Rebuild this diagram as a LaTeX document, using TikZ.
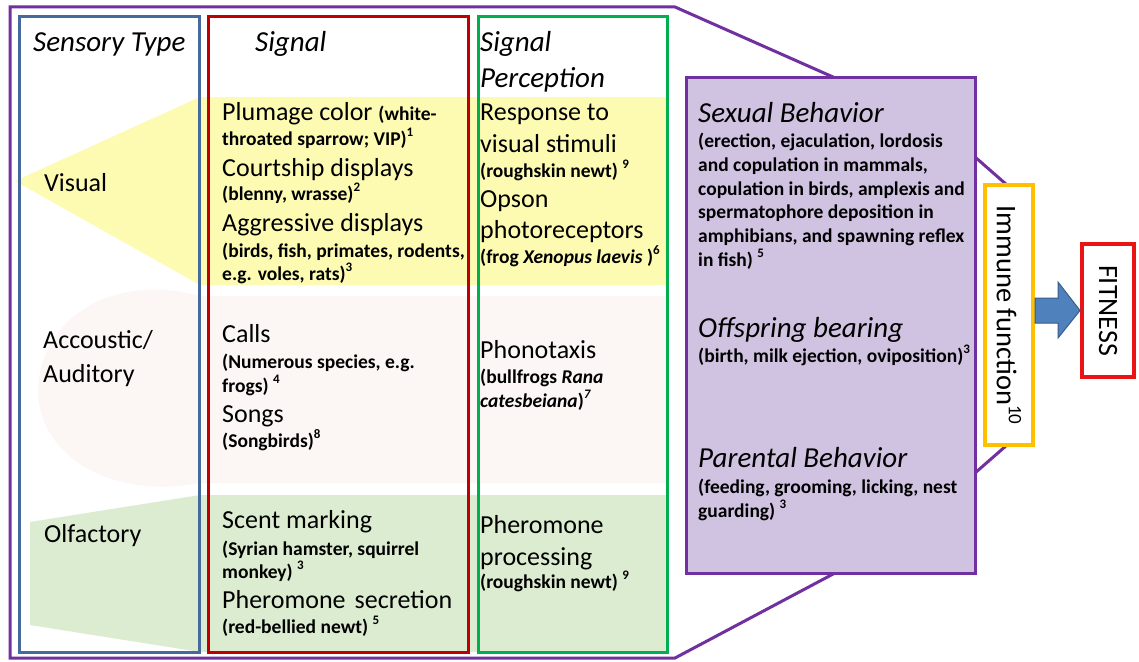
\documentclass[tikz,border=0pt]{standalone}
\usepackage{fontspec}
\setmainfont{Carlito}
\usetikzlibrary{calc}

\definecolor{visfill}{RGB}{253,251,178}
\definecolor{audfill}{RGB}{252,247,245}
\definecolor{olffill}{RGB}{220,236,208}
\definecolor{behfill}{RGB}{208,195,225}
\definecolor{outerline}{RGB}{112,48,160}
\definecolor{typeline}{RGB}{68,106,158}
\definecolor{signalline}{RGB}{192,0,0}
\definecolor{percline}{RGB}{0,176,80}
\definecolor{immline}{RGB}{255,192,0}
\definecolor{fitline}{RGB}{235,20,20}
\definecolor{arrowfill}{RGB}{79,129,189}
\definecolor{arrowline}{RGB}{56,93,138}

\newcommand{\fhd}{\fontsize{29}{35}\selectfont\itshape}
\newcommand{\fbig}{\fontsize{26}{32}\selectfont}
\newcommand{\fsm}{\fontsize{19.5}{24}\selectfont\bfseries}
\newcommand{\refmark}[1]{\raisebox{0.42em}{\fontsize{13}{13}\selectfont\bfseries #1}}

\begin{document}
\begin{tikzpicture}[x=1pt,y=-1pt,
  tx/.style={anchor=base west, inner sep=0pt, text=black},
  hd/.style={tx, font=\fhd},
  lg/.style={tx, font=\fbig},
  sm/.style={tx, font=\fsm},
  colbox/.style={draw, line width=3pt, inner sep=0pt},
  outline/.style={draw=outerline, line width=3pt, line join=miter},
  arrowblock/.style={fill=arrowfill, draw=arrowline, line width=1pt, line join=miter}]
\useasboundingbox (0,0) rectangle (1139,661);
\fill[white] (0,0) rectangle (1139,661);

% coloured bands for the three senses
\fill[visfill] (15,181) -- (200,97) -- (668,97) -- (668,285) -- (200,285) -- cycle;
\fill[audfill] (200,296) .. controls (110,272) and (40,320) .. (38,390)
  .. controls (38,455) and (110,500) .. (200,483) -- (668,483) -- (668,296) -- cycle;
\fill[olffill] (30,522) -- (200,495) -- (668,495) -- (668,652) -- (200,652) -- (30,625) -- cycle;

% funnel outline
\draw[outline] (10,7) -- (675,7) -- (833,77) -- (975,157) -- (1007,185) -- (1007,445)
  -- (975,473) -- (835,573) -- (675,658) -- (10,658) -- cycle;

% column frames
\node (typecol) [colbox, draw=typeline, minimum width=180pt, minimum height=635pt] at (109,334.5) {};
\node (sigcol) [colbox, draw=signalline, minimum width=260pt, minimum height=635pt] at (338,334.5) {};
\node (perccol) [colbox, draw=percline, minimum width=189pt, minimum height=635pt] at (572.5,334.5) {};

% behaviour box, immune function and fitness
\node (beh) [colbox, draw=outerline, fill=behfill, minimum width=289pt, minimum height=496pt] at (830.5,325) {};
\node (imm) [colbox, draw=immline, fill=white, line width=4pt, minimum width=48pt, minimum height=260pt] at (1009,315) {};
\node (fit) [colbox, draw=fitline, fill=white, line width=4pt, minimum width=52pt, minimum height=133pt] at (1108,310.5) {};
\node (immtxt) [rotate=-90, inner sep=0pt, font=\fontsize{28.5}{34}\selectfont] at (imm.center)
  {Immune function\raisebox{0.42em}{\fontsize{19}{19}\selectfont 10}};
\node (fittxt) [rotate=-90, inner sep=0pt, font=\fontsize{28}{32}\selectfont] at (fit.center) {FITNESS};
\draw[arrowblock] (imm.east |- 0,298) -- (1058,298) -- (1058,282) -- (fit.west)
  -- (1058,338) -- (1058,323) -- (imm.east |- 0,323) -- cycle;

% headers
\node (h1) [hd] at (33,52) {Sensory Type};
\node (h2) [hd] at (255,52) {Signal};
\node (h3) [hd] at (480,52) {Signal};
\node (h4) [hd] at (480,87) {Perception};

% sensory types
\node (t1) [lg] at (44,191) {Visual};
\node (t2) [lg] at (43,348) {Accoustic/};
\node (t3) [lg] at (43,382) {Auditory};
\node (t4) [lg] at (44,542) {Olfactory};

% signals
\node (s1) [lg] at (222,120) {Plumage color {\fsm(white-}};
\node (s2) [sm] at (222,145) {throated sparrow; VIP)\refmark{1}};
\node (s3) [lg] at (222,176) {Courtship displays};
\node (s4) [sm] at (222,200) {(blenny, wrasse)\refmark{2}};
\node (s5) [lg] at (222,231) {Aggressive displays};
\node (s6) [sm] at (222,257) {(birds, fish, primates, rodents,};
\node (s7) [sm] at (222,280) {e.g. voles, rats)\refmark{3}};
\node (s8) [lg] at (222,342) {Calls};
\node (s9) [sm] at (222,368) {(Numerous species, e.g.};
\node (s10) [sm] at (222,392) {frogs) \refmark{4}};
\node (s11) [lg] at (222,422) {Songs};
\node (s12) [sm] at (222,447) {(Songbirds)\refmark{8}};
\node (s13) [lg] at (222,528) {Scent marking};
\node (s14) [sm] at (222,555) {(Syrian hamster, squirrel};
\node (s15) [sm] at (222,578) {monkey) \refmark{3}};
\node (s16) [lg] at (222,608) {Pheromone\hspace{9pt}secretion};
\node (s17) [sm] at (222,633) {(red-bellied newt) \refmark{5}};

% signal perception
\node (p1) [lg] at (480,120) {Response to};
\node (p2) [lg] at (480,152) {visual stimuli};
\node (p3) [sm] at (480,177) {(roughskin newt) \refmark{9}};
\node (p4) [lg] at (480,207) {Opson};
\node (p5) [lg] at (480,238) {photoreceptors};
\node (p6) [sm] at (480,263) {(frog \textit{Xenopus laevis} )\refmark{6}};
\node (p7) [lg] at (480,358) {Phonotaxis};
\node (p8) [sm] at (480,383) {(bullfrogs \textit{Rana}};
\node (p9) [sm] at (480,407) {\textit{catesbeiana})\refmark{\itshape 7}};
\node (p10) [lg] at (480,533) {Pheromone};
\node (p11) [lg] at (480,565) {processing};
\node (p12) [sm] at (480,588) {(roughskin newt) \refmark{9}};

% behaviours
\node (b1) [hd] at (698,122) {Sexual Behavior};
\node (b2) [sm] at (698,147) {(erection, ejaculation, lordosis};
\node (b3) [sm] at (698,171) {and copulation in mammals,};
\node (b4) [sm] at (698,195) {copulation in birds, amplexis and};
\node (b5) [sm] at (698,218) {spermatophore deposition in};
\node (b6) [sm] at (698,242) {amphibians, and spawning reflex};
\node (b7) [sm] at (698,266) {in fish) \refmark{5}};
\node (b8) [hd] at (698,337) {Offspring bearing};
\node (b9) [sm] at (698,362) {(birth, milk ejection, oviposition)\refmark{3}};
\node (b10) [hd] at (698,467) {Parental Behavior};
\node (b11) [sm] at (698,493) {(feeding, grooming, licking, nest};
\node (b12) [sm] at (698,517) {guarding) \refmark{3}};
\end{tikzpicture}
\end{document}
